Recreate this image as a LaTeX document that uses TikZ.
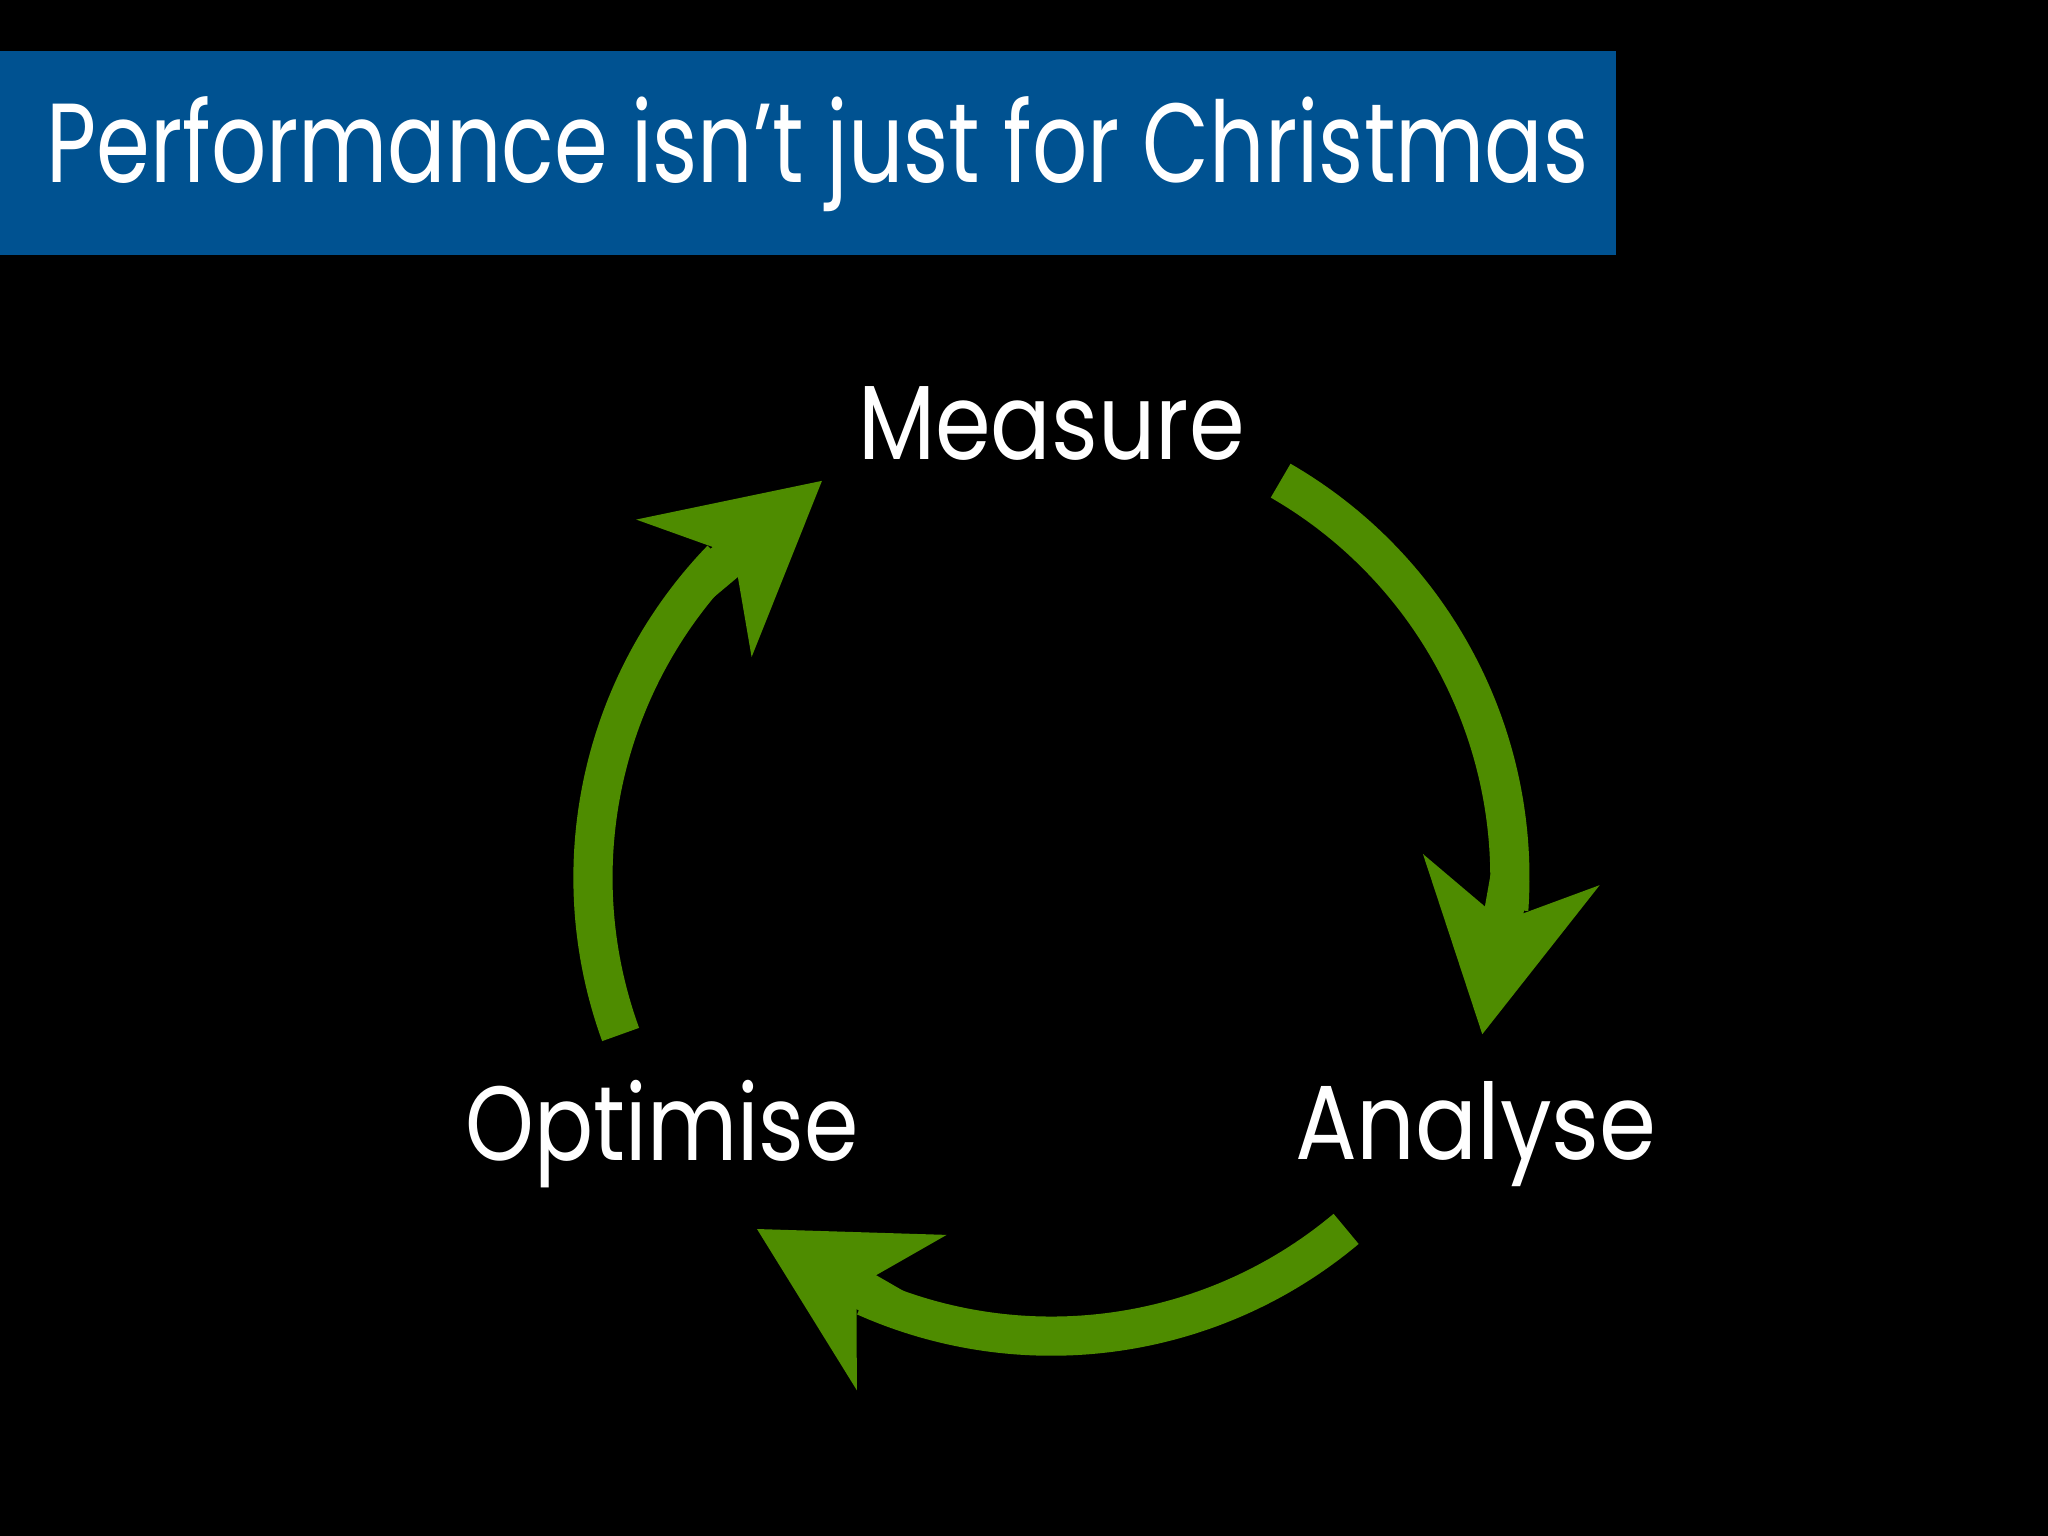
\documentclass[tikz,border=0pt]{standalone}
\usepackage{fontspec}
\usepackage{graphicx}
\setmainfont{Poppins}
\usetikzlibrary{arrows.meta,calc}
\definecolor{arrowgreen}{RGB}{78,140,0}
\definecolor{titleblue}{RGB}{0,82,145}
\tikzset{
  arcbody/.style={draw=arrowgreen, line width=0.392cm},
  arrowhead/.style={draw=arrowgreen, line width=0.392cm,
    -{Stealth[length=1.65cm,width=1.75cm,inset=0.5cm]}},
  lbl/.style={text=white, font=\fontsize{30}{34}\selectfont, inner sep=0pt},
}
\begin{document}
\begin{tikzpicture}[x=0.01306cm,y=0.01306cm]
\fill[black] (0,0) rectangle (1568,1176);
\useasboundingbox (0,0) rectangle (1568,1176);
\fill[titleblue] (0,981) rectangle (1237,1137);
\node[lbl, anchor=west, font=\fontsize{32}{36}\selectfont] (title) at (35,1058) {\scalebox{0.77}[1]{Performance isn’t just for Christmas}};
\coordinate (c) at (805,504);
\node[lbl] (measure) at (805,852) {\scalebox{0.85}[1]{Measure}};
\node[lbl] (analyse) at (1130,308) {\scalebox{0.87}[1]{Analyse}};
\node[lbl] (optimise) at (507,308) {\scalebox{0.83}[1]{Optimise}};
% Measure -> Analyse
\draw[arcbody] ($(c)+(60:351)$) arc[start angle=60, end angle=-4, radius=351];
\draw[arrowhead] ($(c)+(0:351)$) -- ($(c)+(-20:351)$);
% Analyse -> Optimise
\draw[arcbody] ($(c)+(-50:351)$) arc[start angle=-50, end angle=-114, radius=351];
\draw[arrowhead] ($(c)+(-110:351)$) -- ($(c)+(-130:351)$);
% Optimise -> Measure
\draw[arcbody] ($(c)+(200:351)$) arc[start angle=200, end angle=136, radius=351];
\draw[arrowhead] ($(c)+(140:351)$) -- ($(c)+(120:351)$);
\end{tikzpicture}
\end{document}
